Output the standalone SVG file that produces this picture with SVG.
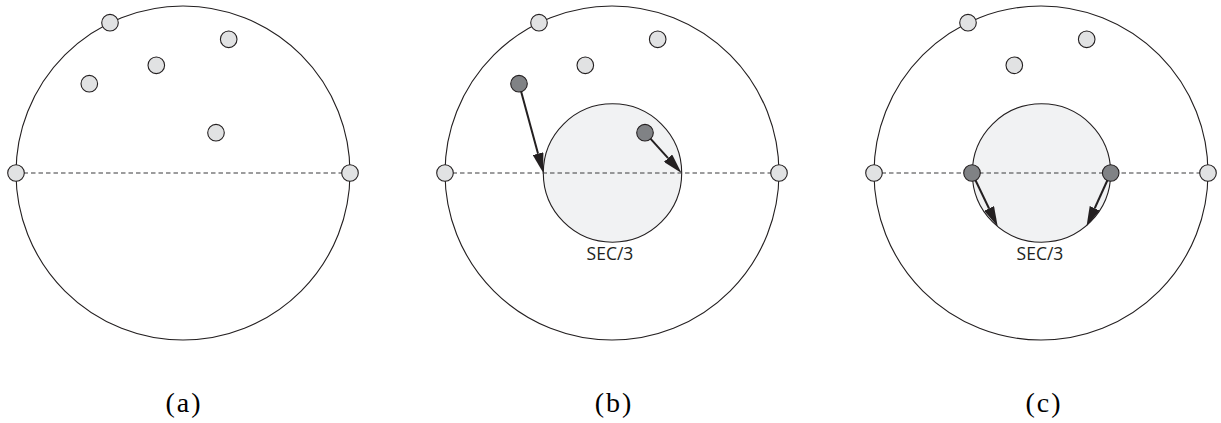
<svg xmlns="http://www.w3.org/2000/svg" width="1221" height="423" viewBox="0 0 1221 423">
<style>
.outer{fill:none;stroke:#231f20;stroke-width:1.1}
.inner{fill:#f1f2f3;stroke:#231f20;stroke-width:1.1}
.dash{stroke:#3a3a3c;stroke-width:1.2;stroke-dasharray:4.5 3;fill:none}
.lt{fill:#e1e2e3;stroke:#231f20;stroke-width:1.1}
.dk{fill:#808285;stroke:#231f20;stroke-width:1.1}
.arr{stroke:#231f20;stroke-width:2;fill:none;marker-end:url(#head)}
.sec{font-family:"Open Sans",sans-serif;font-size:17.5px;fill:#231f20;text-anchor:middle}
.cap{font-family:"Liberation Serif",serif;font-size:28px;fill:#000;text-anchor:middle;letter-spacing:2px}
</style>
<defs>
<marker id="head" viewBox="0 0 20 11" refX="0" refY="5.5" markerUnits="userSpaceOnUse" markerWidth="20" markerHeight="11" orient="auto">
<path d="M0,0 L20,5.5 L0,11 z" fill="#231f20"/>
</marker>
</defs>
<g id="panel-a-bg">
<circle class="outer" cx="183" cy="173" r="167"/>
<line class="dash" x1="16" y1="173" x2="350" y2="173"/>
</g>
<g id="panel-b-bg">
<circle class="outer" cx="612" cy="173" r="167"/>
<circle class="inner" cx="612.5" cy="173" r="69.2"/>
<line class="dash" x1="445" y1="173" x2="779" y2="173"/>
<text class="sec" x="610" y="260">SEC/3</text>
</g>
<g id="panel-c-bg">
<circle class="outer" cx="1041" cy="173" r="167"/>
<circle class="inner" cx="1041.5" cy="173" r="69.2"/>
<line class="dash" x1="874" y1="173" x2="1208" y2="173"/>
<text class="sec" x="1040" y="260">SEC/3</text>
</g>
<g id="connectors">
<line class="arr" x1="519" y1="83.7" x2="538.05" y2="153.7"/>
<line class="arr" x1="645" y1="132.7" x2="668.07" y2="158.18"/>
<line class="arr" x1="972" y1="173" x2="989.04" y2="208.47"/>
<line class="arr" x1="1110.7" y1="173" x2="1094.74" y2="208.28"/>
</g>
<g id="nodes-a">
<circle id="a1" class="lt" cx="110" cy="22.7" r="8.3"/>
<circle id="a2" class="lt" cx="228.7" cy="39.3" r="8.3"/>
<circle id="a3" class="lt" cx="156.3" cy="65.3" r="8.3"/>
<circle id="a4" class="lt" cx="89.3" cy="83.7" r="8.3"/>
<circle id="a5" class="lt" cx="216" cy="132.7" r="8.3"/>
<circle id="a6" class="lt" cx="16" cy="173" r="8.3"/>
<circle id="a7" class="lt" cx="350" cy="173" r="8.3"/>
</g>
<g id="nodes-b">
<circle id="b1" class="lt" cx="539" cy="22.7" r="8.3"/>
<circle id="b2" class="lt" cx="657.7" cy="39.3" r="8.3"/>
<circle id="b3" class="lt" cx="585.3" cy="65.3" r="8.3"/>
<circle id="b4" class="dk" cx="519" cy="83.7" r="8.3"/>
<circle id="b5" class="dk" cx="645" cy="132.7" r="8.3"/>
<circle id="b6" class="lt" cx="445" cy="173" r="8.3"/>
<circle id="b7" class="lt" cx="779" cy="173" r="8.3"/>
</g>
<g id="nodes-c">
<circle id="c1" class="lt" cx="968" cy="22.7" r="8.3"/>
<circle id="c2" class="lt" cx="1086.7" cy="39.3" r="8.3"/>
<circle id="c3" class="lt" cx="1014.3" cy="65.3" r="8.3"/>
<circle id="c4" class="dk" cx="972" cy="173" r="8.3"/>
<circle id="c5" class="dk" cx="1110.7" cy="173" r="8.3"/>
<circle id="c6" class="lt" cx="874" cy="173" r="8.3"/>
<circle id="c7" class="lt" cx="1208" cy="173" r="8.3"/>
</g>
<g id="captions">
<text class="cap" x="184" y="412">(a)</text>
<text class="cap" x="614" y="412">(b)</text>
<text class="cap" x="1044" y="412">(c)</text>
</g>
</svg>
